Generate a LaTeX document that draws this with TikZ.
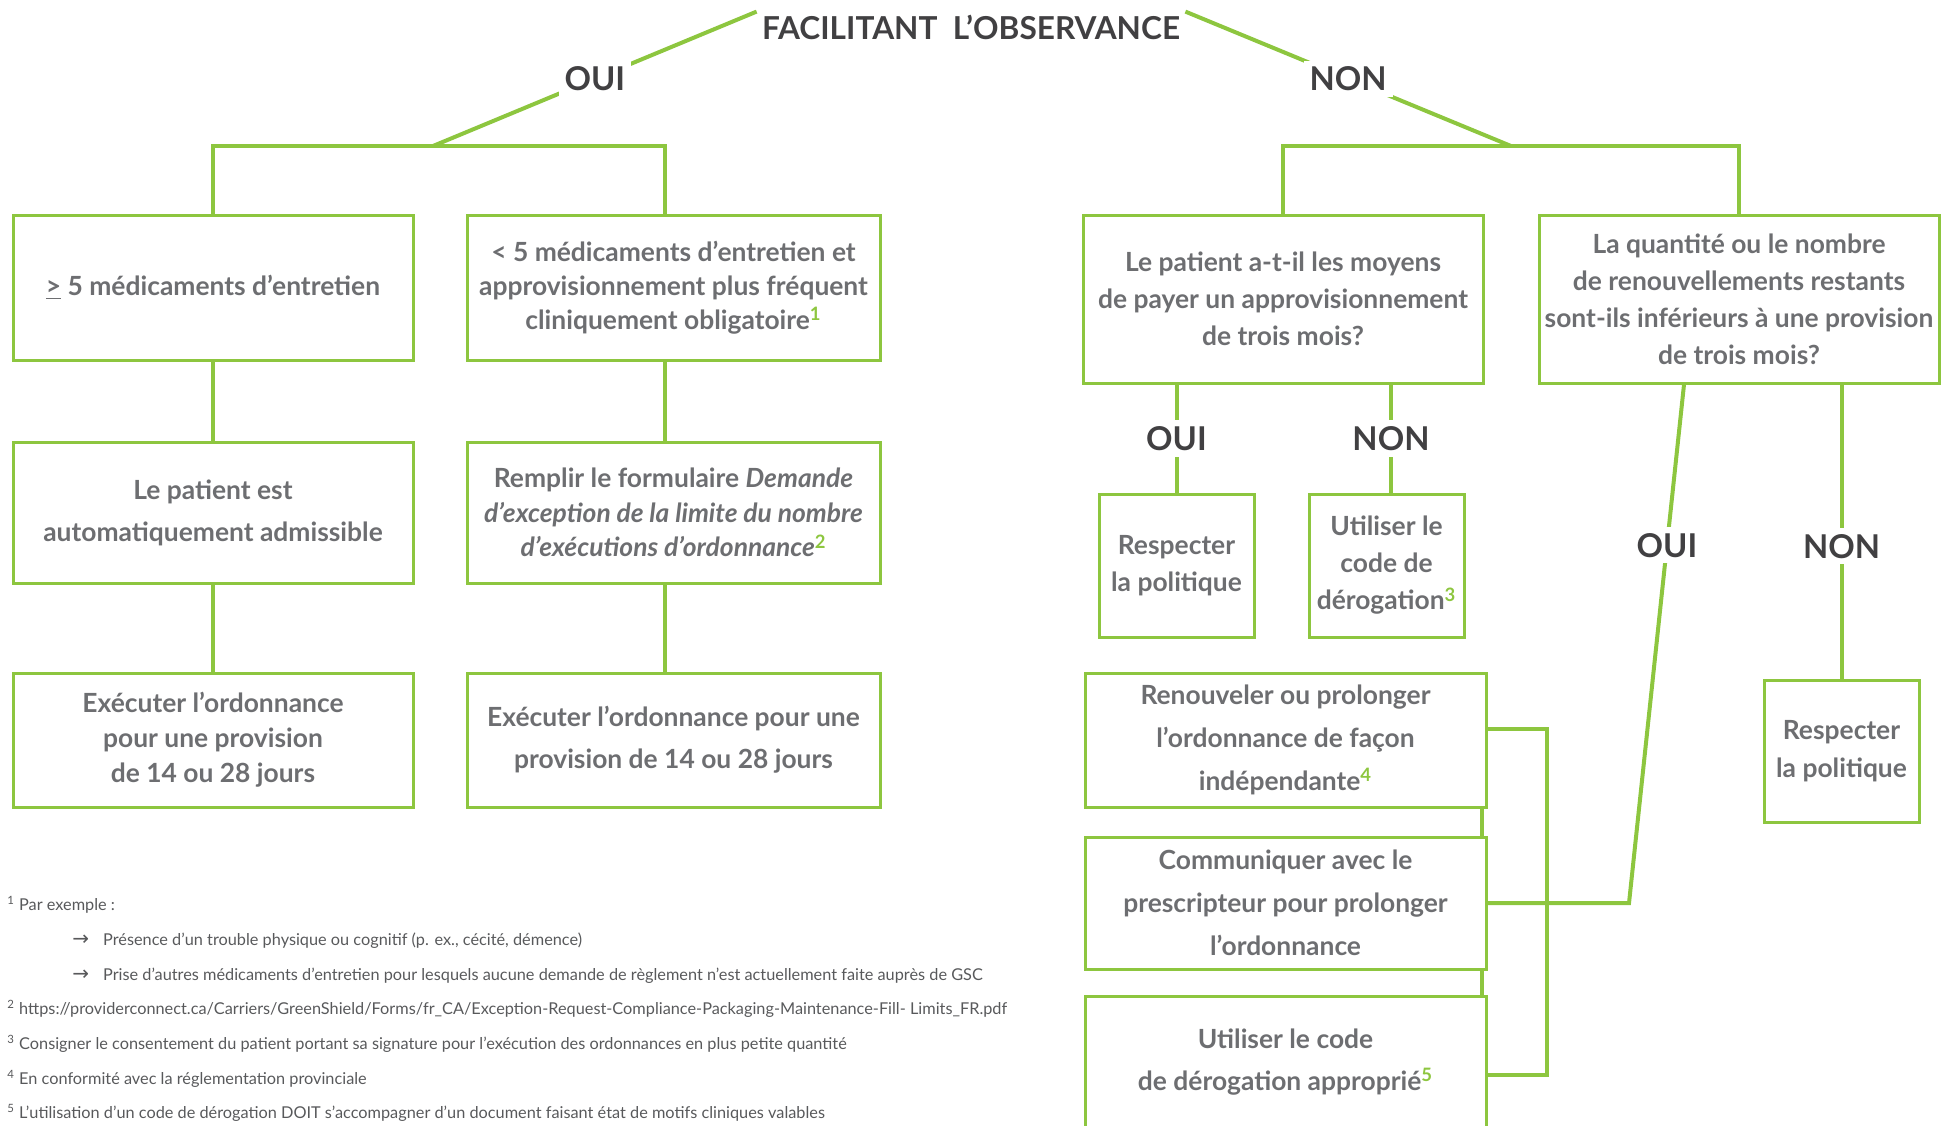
\documentclass[tikz,border=0pt]{standalone}
\usepackage{fontspec}
\setmainfont{Lato}
\newfontfamily\arrowfont{DejaVu Sans}
\usetikzlibrary{calc}

\definecolor{ogreen}{HTML}{8DC63F}
\definecolor{otext}{HTML}{6D6E71}
\definecolor{odark}{HTML}{414042}
\definecolor{onote}{HTML}{58595B}
\newcommand{\gsup}[1]{\textsuperscript{\textcolor{ogreen}{#1}}}

\begin{document}
\begin{tikzpicture}[x=0.5pt, y=-0.5pt,
	box/.style={draw=ogreen, line width=1.5pt, align=center, text=otext, inner sep=0pt,
		font=\fontsize{13.2}{#1}\selectfont\bfseries},
	box/.default=18.5,
	link/.style={draw=ogreen, line width=2pt},
	lab/.style={fill=white, text=odark, inner sep=3pt, font=\fontsize{16.4}{17}\selectfont\bfseries},
	note/.style={anchor=west, text=onote, inner sep=0pt, font=\fontsize{8.15}{9}\selectfont}]

	\useasboundingbox (0,0) rectangle (1942,1125);
	\clip (0,0) rectangle (1942,1125);

	\node (title) [minimum width=214pt, minimum height=15pt, inner sep=0pt, text=odark,
		font=\fontsize{15.8}{17}\selectfont\bfseries] at (971,27) {FACILITANT\ \ L’OBSERVANCE};

	% left branch
	\node (A) [box, minimum width=200pt, minimum height=72.5pt] at (213,287.5) {\underline{>} 5 médicaments d’entretien};
	\node (B) [box=17, minimum width=206.5pt, minimum height=72.5pt] at (673.5,287.5) {< 5 médicaments d’entretien et\\approvisionnement plus fréquent\\cliniquement obligatoire\gsup{1}};
	\node (C) [box=21, minimum width=200pt, minimum height=70.5pt] at (213,512.5) {Le patient est\\automatiquement admissible};
	\node (D) [box=17.3, minimum width=206.5pt, minimum height=70.5pt] at (673.5,512.5) {Remplir le formulaire \textit{Demande}\\\textit{d’exception de la limite du nombre}\\\textit{d’exécutions d’ordonnance}\gsup{2}};
	\node (E) [box=17.5, minimum width=200pt, minimum height=67pt] at (213,740) {Exécuter l’ordonnance\\pour une provision\\de 14 ou 28 jours};
	\node (F) [box=21, minimum width=206.5pt, minimum height=67pt] at (673.5,740) {Exécuter l’ordonnance pour une\\provision de 14 ou 28 jours};

	% right branch
	\node (G) [box, minimum width=200pt, minimum height=84pt] at (1283,299) {Le patient a-t-il les moyens\\de payer un approvisionnement\\de trois mois?};
	\node (H) [box, minimum width=200pt, minimum height=84pt] at (1739,299) {La quantité ou le nombre\\de renouvellements restants\\sont-ils inférieurs à une provision\\de trois mois?};
	\node (I) [box, minimum width=77.5pt, minimum height=71.5pt] at (1176.5,565.5) {Respecter\\la politique};
	\node (J) [box, minimum width=77.5pt, minimum height=71.5pt] at (1386.5,565.5) {Utiliser le\\code de\\dérogation\gsup{3}};
	\node (K) [box=19, minimum width=77.5pt, minimum height=71pt] at (1841.5,751) {Respecter\\la politique};
	\node (L) [box=21.5, minimum width=200.5pt, minimum height=67pt] at (1285.5,740) {Renouveler ou prolonger\\l’ordonnance de façon\\indépendante\gsup{4}};
	\node (M) [box=21.5, minimum width=200.5pt, minimum height=66pt] at (1285.5,903) {Communiquer avec le\\prescripteur pour prolonger\\l’ordonnance};
	\node (N) [box=21, minimum width=200.5pt, minimum height=66pt] at (1285.5,1062) {Utiliser le code\\de dérogation approprié\gsup{5}};

	\coordinate (oui) at (433,146);
	\coordinate (non) at (1511,146);
	\coordinate (hq) at ($(H.south)+(-55,0)$);
	\coordinate (mbend) at (1629,903);
	\coordinate (brtop) at (1547,729);
	\coordinate (brbot) at (1547,1075);

	\path[link]
	(oui) edge node[lab] {OUI} (title.north west)
	(title.north east) edge node[lab] {NON} (non)
	(I.north |- G.south) edge node[lab] {OUI} (I.north)
	([xshift=2.25pt]J.north |- G.south) edge node[lab] {NON} ([xshift=2.25pt]J.north)
	(K.north |- H.south) edge node[lab, pos=0.55] {NON} (K.north)
	(A.south) edge (C.north)
	(C.south) edge (E.north)
	([xshift=-4.25pt]B.south) edge ([xshift=-4.25pt]D.north)
	([xshift=-4.25pt]D.south) edge ([xshift=-4.25pt]F.north)
	([xshift=-3pt]L.south east) edge ([xshift=-3pt]M.north east)
	([xshift=-3pt]M.south east) edge ([xshift=-3pt]N.north east);

	\draw[link] (A.north) |- (oui) -| ([xshift=-4.25pt]B.north);
	\draw[link] (G.north) |- (non) -| (H.north);
	\draw[link] (L.east |- brtop) -- (brtop) -- (brbot) -- (N.east |- brbot);
	\draw[link] (M.east) -- (mbend) -- node[lab, pos=0.69] {OUI} (hq);

	% notes
	\node (fn1) [note] at (7,905) {\textsuperscript{1} Par exemple :};
	\node (fn2) [note] at (72,941) {{\arrowfont\fontsize{10}{10}\selectfont →}\hspace{7pt}Présence d’un trouble physique ou cognitif (p. ex., cécité, démence)};
	\node (fn3) [note] at (72,976) {{\arrowfont\fontsize{10}{10}\selectfont →}\hspace{7pt}Prise d’autres médicaments d’entretien pour lesquels aucune demande de règlement n’est actuellement faite auprès de GSC};
	\node (fn4) [note] at (7,1009) {\textsuperscript{2} https://providerconnect.ca/Carriers/GreenShield/Forms/fr\_CA/Exception-Request-Compliance-Packaging-Maintenance-Fill- Limits\_FR.pdf};
	\node (fn5) [note] at (7,1044) {\textsuperscript{3} Consigner le consentement du patient portant sa signature pour l’exécution des ordonnances en plus petite quantité};
	\node (fn6) [note] at (7,1079) {\textsuperscript{4} En conformité avec la réglementation provinciale};
	\node (fn7) [note] at (7,1113) {\textsuperscript{5} L’utilisation d’un code de dérogation DOIT s’accompagner d’un document faisant état de motifs cliniques valables};

\end{tikzpicture}
\end{document}
